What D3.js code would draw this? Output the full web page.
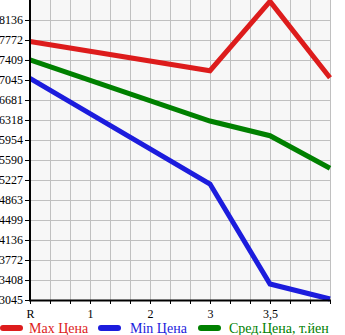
<!DOCTYPE html>
<html><head><meta charset="utf-8">
<script src="https://cdn.jsdelivr.net/npm/d3@7"></script>
<style>body{margin:0;background:#fff;}svg{display:block;}</style>
</head><body>
<svg id="c" width="345" height="335"></svg>
<script>
const xLabels = ["R","1","2","3","3,5"];
const xLabelPos = [0,1,2,3,4];
const xPointPos = [0,3,4,5];
const maxPrice = [7745,7214,8475,7087];
const minPrice = [7076,5154,3336,3063];
const avgPrice = [7409,6299,6032,5440];
const yTicks = [3045,3408,3772,4136,4499,4863,5227,5590,5954,6318,6681,7045,7409,7772,8136];
const seriesNames = ["Max Цена","Min Цена","Сред.Цена, т.йен"];
const seriesColors = ["#dd1c1c","#1c1cdd","#008000"];

const svg = d3.select("#c");
const L=30,R=330,T=0,B=300;
const x = d3.scaleLinear().domain([0,5]).range([L,R]);
const y = d3.scaleLinear().domain([3045,8499.6]).range([B,T]);

svg.append("rect").attr("x",L).attr("y",T).attr("width",R-L).attr("height",B-T).attr("fill","#f7f7f7");
const grid = svg.append("g").attr("stroke","#c0c0c0").attr("stroke-width",1);
for(let i=1;i<=15;i++){
  const gx = L + i*20 + 0.5;
  grid.append("line").attr("x1",gx).attr("x2",gx).attr("y1",T).attr("y2",B);
}
yTicks.forEach(v=>{
  const gy=Math.round(y(v))+0.5;
  grid.append("line").attr("x1",L).attr("x2",R).attr("y1",gy).attr("y2",gy);
});

const series=[maxPrice,minPrice,avgPrice];
const line=d3.line().x((d,i)=>x(xPointPos[i])).y(d=>y(d));
series.forEach((s,k)=>{
  svg.append("path").datum(s).attr("d",line).attr("fill","none")
    .attr("stroke",seriesColors[k]).attr("stroke-width",5).attr("stroke-linejoin","miter");
});

// axes
const yAxis = d3.axisLeft(y).tickValues(yTicks).tickSize(5).tickFormat(d3.format("d"));
const gy = svg.append("g").attr("transform",`translate(${L},0)`).call(yAxis);
gy.select(".domain").remove();
gy.selectAll("text").attr("font-family","'Liberation Serif',serif").attr("font-size",12).attr("fill","#000").attr("x",-7);
gy.selectAll("line").attr("stroke","#000");

const minorTicks = d3.range(0,16).map(i=>i/3);
const xAxisMinor = d3.axisBottom(x).tickValues(minorTicks).tickSize(4).tickFormat("");
const gxm = svg.append("g").attr("transform",`translate(0,${B})`).call(xAxisMinor);
gxm.select(".domain").remove();
gxm.selectAll("line").attr("stroke","#000");
const xAxis = d3.axisBottom(x).tickValues(xLabelPos).tickSize(0).tickFormat((d,i)=>xLabels[i]);
const gxa = svg.append("g").attr("transform",`translate(0,${B})`).call(xAxis);
gxa.select(".domain").remove();
gxa.selectAll("text").attr("font-family","'Liberation Serif',serif").attr("font-size",12).attr("fill","#000").attr("dy","1.25em");

svg.append("line").attr("x1",L).attr("x2",L).attr("y1",T).attr("y2",B+1).attr("stroke","#000").attr("stroke-width",2);
svg.append("line").attr("x1",L-1).attr("x2",R+1).attr("y1",B+0.5).attr("y2",B+0.5).attr("stroke","#000").attr("stroke-width",2);

// legend
const legX=[3,101,201], legTX=[29,130,229];
seriesNames.forEach((n,k)=>{
  svg.append("line").attr("x1",legX[k]).attr("x2",legX[k]+17).attr("y1",328).attr("y2",328)
    .attr("stroke",seriesColors[k]).attr("stroke-width",6).attr("stroke-linecap","round");
  svg.append("text").attr("x",legTX[k]).attr("y",333).text(n)
    .attr("font-family","'Liberation Serif',serif").attr("font-size",14).attr("fill",seriesColors[k]);
});
</script>
</body></html>
